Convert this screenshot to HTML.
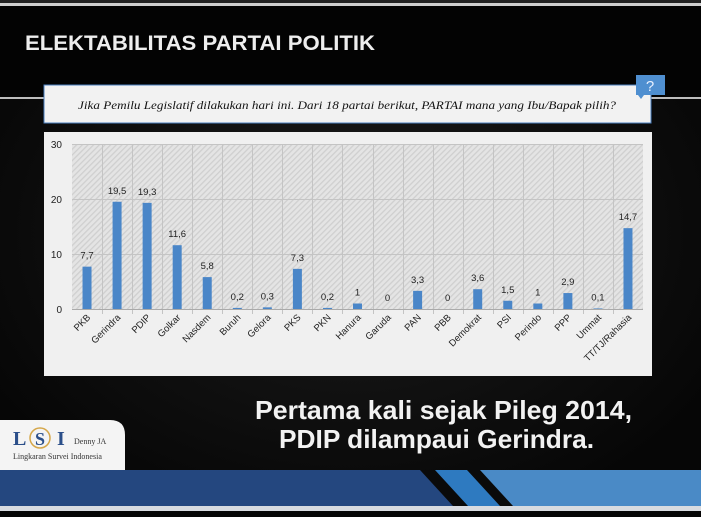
<!DOCTYPE html>
<html><head><meta charset="utf-8"><style>
html,body{margin:0;padding:0;background:#050505;}
svg{display:block;}
</style></head><body>
<svg width="701" height="517" viewBox="0 0 701 517" xmlns="http://www.w3.org/2000/svg">
<defs>
<pattern id="hatch" width="4" height="4" patternUnits="userSpaceOnUse" patternTransform="rotate(45)">
<rect width="4" height="4" fill="#e4e4e4"/><rect width="1.3" height="4" fill="#cfcfcf"/>
</pattern>
<radialGradient id="bg" cx="0.5" cy="0.45" r="0.6"><stop offset="0" stop-color="#1c1c1c"/><stop offset="1" stop-color="#060606"/></radialGradient>
</defs>
<rect width="701" height="517" fill="url(#bg)"/>
<rect x="0" y="0" width="701" height="3" fill="#222"/>
<rect x="0" y="3" width="701" height="3" fill="#cfcfcf"/>
<rect x="0" y="6" width="701" height="91" fill="#030303"/>
<rect x="0" y="97" width="701" height="2" fill="#bdbdbd"/>
<text x="25" y="50" font-family="Liberation Sans, sans-serif" font-weight="bold" font-size="21" fill="#eeeeee" textLength="350" lengthAdjust="spacingAndGlyphs">ELEKTABILITAS PARTAI POLITIK</text>
<rect x="44" y="85" width="607" height="38" fill="#f2f2f2" stroke="#4a7fbf" stroke-width="1"/>
<text x="347" y="109" text-anchor="middle" font-family="Liberation Serif, serif" font-style="italic" font-size="12" fill="#111" textLength="538" lengthAdjust="spacingAndGlyphs">Jika Pemilu Legislatif dilakukan hari ini. Dari 18 partai berikut, PARTAI mana yang Ibu/Bapak pilih?</text>
<rect x="636" y="75" width="29" height="20" fill="#4f8fd0"/>
<polygon points="638,95 644,95 641,99" fill="#4f8fd0"/>
<text x="650" y="91" text-anchor="middle" font-family="Liberation Sans, sans-serif" font-size="15" fill="#e8f0ff">?</text>
<rect x="44" y="132" width="608" height="244" fill="#f0f0f0"/>
<rect x="72" y="144" width="571" height="165" fill="url(#hatch)"/>
<g stroke="#c4c4c4" stroke-width="1">
<line x1="72" y1="144.5" x2="643" y2="144.5"/><line x1="72" y1="199.5" x2="643" y2="199.5"/><line x1="72" y1="254.5" x2="643" y2="254.5"/>
</g>
<g id="vg" stroke="#c4c4c4" stroke-width="1"></g>
<line x1="72" y1="309.5" x2="643" y2="309.5" stroke="#aaa"/>
<g font-family="Liberation Sans, sans-serif" font-size="10" fill="#222" text-anchor="end">
<text x="62" y="148">30</text><text x="62" y="203">20</text><text x="62" y="258">10</text><text x="62" y="313">0</text>
</g>
<g id="bars"></g>
<text x="255" y="419" font-family="Liberation Sans, sans-serif" font-weight="bold" font-size="26" fill="#f2f2f2" textLength="377" lengthAdjust="spacingAndGlyphs">Pertama kali sejak Pileg 2014,</text>
<text x="279" y="448" font-family="Liberation Sans, sans-serif" font-weight="bold" font-size="26" fill="#f2f2f2" textLength="315" lengthAdjust="spacingAndGlyphs">PDIP dilampaui Gerindra.</text>
<path d="M0,420 H110 Q125,420 125,435 V470 H0 Z" fill="#f4f4f4"/>
<text x="13" y="445" font-family="Liberation Serif, serif" font-weight="bold" font-size="20" fill="#2b4f8a">L</text>
<circle cx="40" cy="438" r="10" fill="none" stroke="#d5a74a" stroke-width="1.5"/>
<text x="40" y="445" text-anchor="middle" font-family="Liberation Serif, serif" font-weight="bold" font-size="18" fill="#2b4f8a">S</text>
<text x="57" y="445" font-family="Liberation Serif, serif" font-weight="bold" font-size="20" fill="#2b4f8a">I</text>
<text x="74" y="444" font-family="Liberation Serif, serif" font-size="8" fill="#333">Denny JA</text>
<text x="13" y="459" font-family="Liberation Serif, serif" font-size="8" fill="#333">Lingkaran Survei Indonesia</text>
<rect x="0" y="470" width="701" height="36" fill="#24477f"/>
<polygon points="420,470 701,470 701,506 453,506" fill="#0a0a0a"/>
<polygon points="435,470 467,470 500,506 468,506" fill="#2e7ac0"/>
<polygon points="480,470 701,470 701,506 513,506" fill="#4a8ac6"/>
<rect x="0" y="506" width="701" height="5" fill="#d8dbe0"/>
<rect x="0" y="511" width="701" height="6" fill="#050505"/>
</svg>
<script>
var names=["PKB","Gerindra","PDIP","Golkar","Nasdem","Buruh","Gelora","PKS","PKN","Hanura","Garuda","PAN","PBB","Demokrat","PSI","Perindo","PPP","Ummat","TT/TJ/Rahasia"];
var vals=[7.7,19.5,19.3,11.6,5.8,0.2,0.3,7.3,0.2,1,0,3.3,0,3.6,1.5,1,2.9,0.1,14.7];
var n=names.length,x0=72,w=571/n,s="";
for(var i=1;i<n;i++){var x=Math.round(x0+i*w)+0.5;s+='<line x1="'+x+'" y1="144" x2="'+x+'" y2="314"/>';}
document.getElementById('vg').innerHTML=s;
var b="";
for(var i=0;i<n;i++){var c=x0+(i+0.5)*w,h=vals[i]*5.5;
b+='<rect x="'+(c-4.5)+'" y="'+(309-h)+'" width="9" height="'+h+'" fill="#4a86c8"/>';
b+='<text x="'+c+'" y="'+(309-h-8)+'" text-anchor="middle" font-family="Liberation Sans, sans-serif" font-size="9.5" fill="#222">'+String(vals[i]).replace('.',',')+'</text>';
b+='<text transform="translate('+(c+4)+',318) rotate(-45)" text-anchor="end" font-family="Liberation Sans, sans-serif" font-size="9.5" fill="#222">'+names[i]+'</text>';}
document.getElementById('bars').innerHTML=b;
</script>
</body></html>
